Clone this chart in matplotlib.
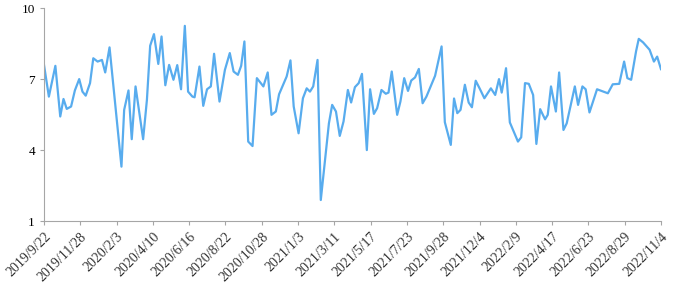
import matplotlib
matplotlib.use('Agg')
import matplotlib.pyplot as plt
import pandas as pd

# dias desde 2019/9/22 e valores
start = '2019-09-22'
day_offsets = [0, 9, 21, 30, 36, 42, 50, 57, 65, 71, 77, 85, 91, 99, 107, 113, 121,
               143, 148, 156, 162, 169, 183, 190, 196, 203, 211, 217, 224, 231, 239,
               246, 253, 260, 266, 274, 278, 287, 294, 301, 308, 314, 324, 334, 343,
               350, 358, 364, 370, 377, 385, 393, 405, 413, 420, 428, 434, 448, 455,
               461, 470, 478, 485, 491, 497, 505, 511, 526, 532, 539, 546, 553, 561,
               567, 574, 581, 587, 596, 602, 609, 615, 623, 631, 636, 642, 652, 658,
               665, 672, 678, 685, 692, 699, 706, 722, 734, 740, 751, 757, 763, 769,
               777, 784, 790, 797, 805, 813, 825, 833, 840, 845, 853, 860, 875, 881,
               888, 895, 903, 909, 916, 925, 930, 936, 945, 951, 959, 965, 980, 986,
               994, 1000, 1007, 1021, 1041, 1050, 1062, 1071, 1077, 1084, 1093, 1098,
               1106, 1118, 1126, 1132, 1139]
values = [7.60, 6.26, 7.56, 5.42, 6.16, 5.74, 5.84, 6.52, 7.00, 6.47, 6.30, 6.83, 7.88,
          7.74, 7.81, 7.28, 8.34, 3.30, 5.70, 6.52, 4.46, 6.69, 4.46, 6.12, 8.41, 8.90,
          7.64, 8.80, 6.74, 7.60, 6.97, 7.59, 6.57, 9.25, 6.47, 6.26, 6.23, 7.53, 5.87,
          6.57, 6.69, 8.07, 6.05, 7.39, 8.10, 7.32, 7.18, 7.56, 8.59, 4.36, 4.17, 7.04,
          6.69, 7.28, 5.49, 5.63, 6.36, 7.11, 7.79, 5.84, 4.71, 6.19, 6.61, 6.47, 6.69,
          7.81, 1.89, 5.13, 5.91, 5.63, 4.60, 5.21, 6.54, 6.01, 6.66, 6.83, 7.22, 4.00,
          6.57, 5.53, 5.77, 6.54, 6.38, 6.43, 7.32, 5.49, 6.05, 7.04, 6.50, 6.94, 7.07,
          7.43, 5.98, 6.26, 7.14, 8.38, 5.18, 4.22, 6.18, 5.56, 5.70, 6.76, 6.01, 5.81,
          6.93, 6.57, 6.19, 6.61, 6.33, 7.00, 6.43, 7.46, 5.17, 4.36, 4.54, 6.83, 6.80,
          6.33, 4.26, 5.73, 5.30, 5.49, 6.69, 5.63, 7.28, 4.85, 5.13, 6.69, 5.91, 6.69,
          6.57, 5.59, 6.57, 6.40, 6.78, 6.80, 7.74, 7.04, 6.97, 8.17, 8.70, 8.55, 8.24,
          7.74, 7.95, 7.42]

tick_labels = ['2019/9/22', '2019/11/28', '2020/2/3', '2020/4/10', '2020/6/16',
               '2020/8/22', '2020/10/28', '2021/1/3', '2021/3/11', '2021/5/17',
               '2021/7/23', '2021/9/28', '2021/12/4', '2022/2/9', '2022/4/17',
               '2022/6/23', '2022/8/29', '2022/11/4']
y_ticks = [1, 4, 7, 10]

dates = pd.Timestamp(start) + pd.to_timedelta(day_offsets, unit='D')
tick_dates = pd.to_datetime(tick_labels, format='%Y/%m/%d')

plt.rcParams['font.family'] = ['Liberation Serif', 'DejaVu Serif']

fig = plt.figure(figsize=(6.8, 2.89), dpi=100)
ax = fig.add_axes([0.0647, 0.235, 0.9073, 0.737])
ax.plot(dates, values, color='#58acee', linewidth=1.6)

ax.set_ylim(1, 10)
ax.set_yticks(y_ticks)
ax.set_xlim(tick_dates[0], tick_dates[-1])
ax.set_xticks(tick_dates)
ax.set_xticklabels(tick_labels, rotation=45, ha='right', va='top', rotation_mode='anchor')

for s in ['top', 'right']:
    ax.spines[s].set_visible(False)
for s in ['left', 'bottom']:
    ax.spines[s].set_color('#a6a6a6')
ax.tick_params(axis='both', colors='#a6a6a6', labelcolor='#333333', labelsize=10, length=3)
ax.tick_params(axis='y', labelcolor='#000000', labelsize=9.5)

fig.savefig('out.png', dpi=100)
